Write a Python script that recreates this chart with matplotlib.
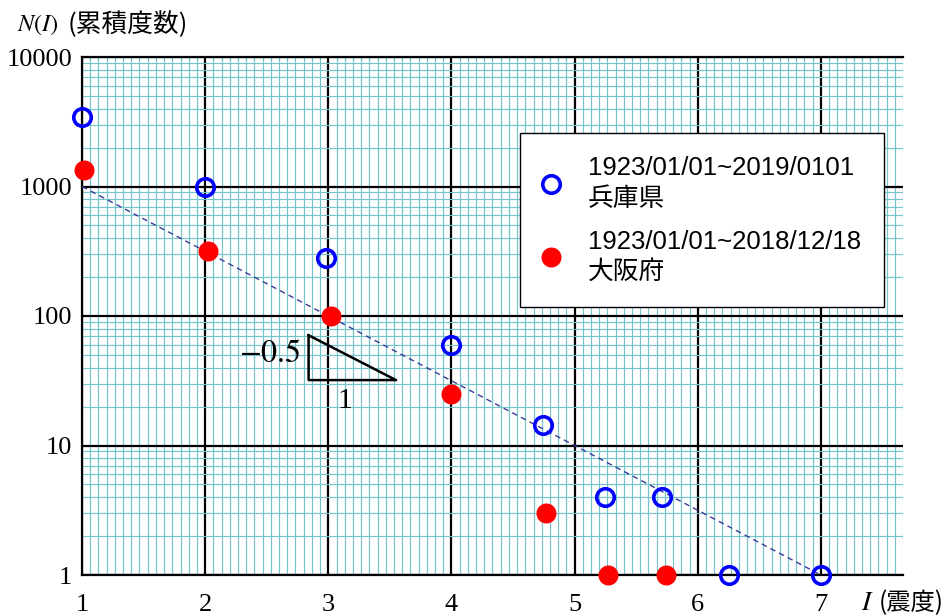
import matplotlib
matplotlib.use('Agg')
import matplotlib.pyplot as plt
from matplotlib.ticker import FixedLocator, NullFormatter
import numpy as np

plt.rcParams['font.family'] = ['Liberation Serif', 'Noto Sans CJK JP']
plt.rcParams['mathtext.fontset'] = 'stix'

# cumulative counts N(I) per seismic intensity I
hyogo_i = [1.0, 2.0, 2.98, 4.0, 4.74, 5.25, 5.71, 6.25, 7.0]
hyogo_n = [3450, 1000, 280, 60, 14.3, 4, 4, 1, 1]
hyogo_label = '1923/01/01~2019/0101\n兵庫県'

osaka_i = [1.02, 2.02, 3.02, 4.0, 4.77, 5.27, 5.74]
osaka_n = [1350, 315, 100, 25, 3, 1, 1]
osaka_label = '1923/01/01~2018/12/18\n大阪府'

# reference slope line and slope triangle
fit_i = [1, 7]
fit_n = [1000, 1]
tri_i = [2.84, 2.84, 3.55, 2.84]
tri_n = [71, 32, 32, 71]

x_major = [1, 2, 3, 4, 5, 6, 7]
y_major = [1, 10, 100, 1000, 10000]
y_labels = ['1', '10', '100', '1000', '10000']

fig = plt.figure(figsize=(9.47, 6.16), dpi=100)
ax = fig.add_axes([82/947, 41/616, 821/947, 518/616])

ax.set_yscale('log')
ax.set_xlim(1, 7 + 2/3)
ax.set_ylim(1, 10000)

ax.set_xticks(x_major, [str(v) for v in x_major])
ax.set_yticks(y_major, y_labels)
ax.xaxis.set_minor_locator(FixedLocator(np.arange(1, 7.7, 1/15)))
minor_y = [m * 10**d for d in range(4) for m in range(2, 10)]
ax.yaxis.set_minor_locator(FixedLocator(minor_y))
ax.yaxis.set_minor_formatter(NullFormatter())
ax.tick_params(which='both', length=0, labelsize=19)
ax.tick_params(axis='x', pad=14)
ax.tick_params(axis='y', pad=7)

ax.grid(which='minor', color='#74c4c9', lw=0.85)
ax.grid(which='major', color='black', lw=1.6)
ax.set_axisbelow(True)
for side in ['left', 'bottom', 'top']:
    ax.spines[side].set_linewidth(1.6)
ax.spines['right'].set_visible(False)

ax.plot(fit_i, fit_n, color='#3a3a9a', lw=1.0, ls=(0, (4, 3)), zorder=3)
ax.plot(tri_i, tri_n, color='black', lw=1.8, zorder=3)
ax.text(2.775, 50, r'$-0.5$', fontsize=23, ha='right', va='center')
ax.text(3.13, 22, '1', fontsize=21, ha='center', va='center')

ax.plot(hyogo_i, hyogo_n, 'o', ms=12.6, mfc='none', mec='blue', mew=2.6,
        label=hyogo_label, zorder=4, clip_on=False)
ax.plot(osaka_i, osaka_n, 'o', ms=14.4, mfc='red', mec='red', mew=0,
        label=osaka_label, zorder=4, clip_on=False)

leg = ax.legend(loc='upper left', bbox_to_anchor=(0.5335, 0.853), borderaxespad=0,
                prop={'family': ['Liberation Sans', 'Noto Sans CJK JP'], 'size': 18.5},
                handlelength=0.6, handletextpad=1.13, labelspacing=0.75,
                borderpad=0.9, fancybox=False, framealpha=1, edgecolor='black')
leg.get_frame().set_linewidth(1.0)
for t in leg.get_texts():
    t.set_linespacing(1.33)

fig.text(17/947, 1 - 25/616, r'$N(I)$', fontsize=17.5, va='center')
fig.text(68/947, 1 - 25/616, '(累積度数)', family='Noto Sans CJK JP', fontsize=18.5, va='center')
fig.text(861/947, 1 - 603/616, r'$I$', fontsize=20, va='center')
fig.text(879/947, 1 - 603/616, '(震度)', family='Noto Sans CJK JP', fontsize=17.5, va='center')

fig.savefig('out.png', dpi=100)
